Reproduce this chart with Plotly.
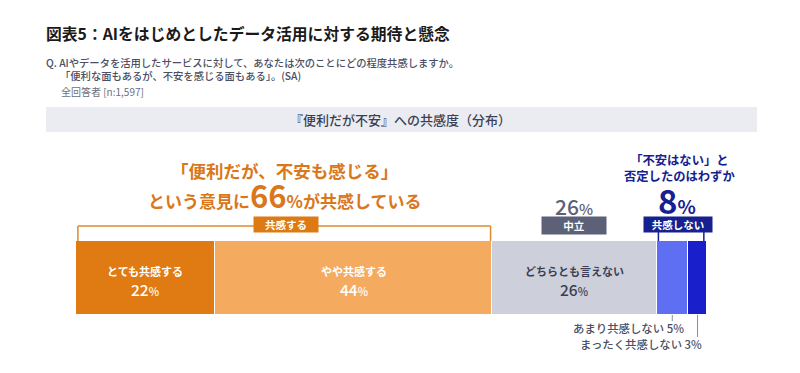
import plotly.graph_objects as go

# ---- data ----
categories = ["とても共感する", "やや共感する", "どちらとも言えない", "あまり共感しない", "まったく共感しない"]
values = [22, 44, 26, 5, 3]
colors = ["#e07a12", "#f5ab5f", "#cdd0da", "#5f6ff4", "#1a1fcc"]
group_agree = "共感する"
group_neutral = "中立"
group_disagree = "共感しない"

W, H = 800, 373
FONT = "Noto Sans CJK JP"
ORANGE = "#d9771a"
NAVY = "#16218f"
SLATE = "#5c6178"
DARK = "#3a3f55"

def px(x):
    return x / W

def py(y):
    return 1 - y / H

cum = [sum(values[:i]) for i in range(len(values))]
mids = [c + v / 2 for c, v in zip(cum, values)]
agree_total = values[0] + values[1]
neutral_total = values[2]
disagree_total = values[3] + values[4]

fig = go.Figure()
for cat, v, c in zip(categories, values, colors):
    fig.add_trace(go.Bar(
        y=["dist"], x=[v], orientation="h", name=cat,
        marker=dict(color=c, line=dict(color="white", width=1.5)),
        hoverinfo="skip", showlegend=False,
    ))

ann = []
def A(text, x, y, size, color, xref="paper", weight="normal", xanchor="center", yanchor="middle", **kw):
    ann.append(dict(text=text, x=x, y=y, xref=xref, yref="paper", showarrow=False,
                    xanchor=xanchor, yanchor=yanchor,
                    font=dict(family=FONT, size=size, color=color, weight=weight), **kw))

# header texts
A("図表5：AIをはじめとしたデータ活用に対する期待と懸念", px(44), py(33), 15.8, "#1a1a1a", weight="bold", xanchor="left")
A("Q. AIやデータを活用したサービスに対して、あなたは次のことにどの程度共感しますか。", px(44), py(62), 10.3, "#4a4f63", weight=500, xanchor="left")
A("「便利な面もあるが、不安を感じる面もある」。(SA)", px(58), py(75), 10.3, "#4a4f63", weight=500, xanchor="left")
A("全回答者 [n:1,597]", px(59), py(92), 10, "#6b6f80", xanchor="left")
A("『便利だが不安』への共感度（分布）", px(400), py(119.5), 13, DARK, weight=500)

# agree headline
A("「便利だが、不安も感じる」", px(284), py(170), 17.5, ORANGE, weight="bold")
A(f"という意見に<span style='font-size:31px'>{agree_total}</span>%が共感している", px(284), py(194), 17, ORANGE, weight="bold")
A(group_agree, px(285.5), py(225), 10.5, "white", weight="bold", bgcolor="#dd7a14", width=62, height=13)

# neutral
A(f"{neutral_total}<span style='font-size:15px'>%</span>", mids[2], py(206), 21, SLATE, xref="x", weight=500)
A(group_neutral, mids[2], py(226), 10.5, "white", xref="x", weight="bold", bgcolor=SLATE, width=62, height=15)

# disagree
A("「不安はない」と<br>否定したのはわずか", px(679), py(168), 12.3, NAVY, weight="bold")
A(f"{disagree_total}<span style='font-size:19px'>%</span>", px(677), py(200), 33, NAVY, weight="bold")
A(group_disagree, px(678), py(225), 10.5, "white", weight="bold", bgcolor=NAVY, width=66, height=13)

# in-bar labels
lab_colors = ["white", "white", DARK]
for i in range(3):
    A(categories[i], mids[i], py(271), 11, lab_colors[i], xref="x", weight="bold")
    A(f"{values[i]}<span style='font-size:11px'>%</span>", mids[i], py(289), 15.5, lab_colors[i], xref="x", weight=500)

# bottom labels
A(f"{categories[3]} {values[3]}%", px(686), py(328), 11.4, "#4a4f63", weight=500, xanchor="right")
A(f"{categories[4]} {values[4]}%", px(704), py(344), 11.4, "#4a4f63", weight=500, xanchor="right")

shapes = []
# gray band
shapes.append(dict(type="rect", xref="paper", yref="paper", x0=px(46), x1=px(757), y0=py(132), y1=py(107),
                   fillcolor="#ebecf1", line=dict(width=0), layer="below"))
# agree bracket
bl = dict(color="#dd8a2c", width=1.5)
shapes.append(dict(type="line", xref="x", yref="paper", x0=0.3, x1=agree_total - 0.3, y0=py(226), y1=py(226), line=bl))
shapes.append(dict(type="line", xref="x", yref="paper", x0=0.3, x1=0.3, y0=py(226), y1=py(241), line=bl))
shapes.append(dict(type="line", xref="x", yref="paper", x0=agree_total - 0.3, x1=agree_total - 0.3, y0=py(226), y1=py(241), line=bl))
# disagree ticks
nl = dict(color=NAVY, width=1.5)
d0 = cum[3]
shapes.append(dict(type="line", xref="x", yref="paper", x0=d0 + 0.3, x1=d0 + 0.3, y0=py(232), y1=py(241), line=nl))
shapes.append(dict(type="line", xref="x", yref="paper", x0=99.5, x1=99.5, y0=py(232), y1=py(241), line=nl))
# leaders
gl = dict(color="#8a8d99", width=1)
shapes.append(dict(type="line", xref="x", yref="paper", x0=mids[3], x1=mids[3], y0=py(315), y1=py(321), line=gl))
shapes.append(dict(type="line", xref="x", yref="paper", x0=mids[4], x1=mids[4], y0=py(315), y1=py(337), line=gl))

fig.update_layout(
    width=W, height=H, margin=dict(l=0, r=0, t=0, b=0),
    paper_bgcolor="white", plot_bgcolor="white",
    barmode="stack", bargap=0,
    xaxis=dict(domain=[px(76), px(707)], range=[0, 100], visible=False, fixedrange=True),
    yaxis=dict(domain=[py(315), py(241)], visible=False, fixedrange=True),
    annotations=ann, shapes=shapes, showlegend=False,
    font=dict(family=FONT),
)
fig.write_html("out.html", config={"displayModeBar": False},
               post_script="document.body.style.margin='0';document.body.style.overflow='hidden';")
